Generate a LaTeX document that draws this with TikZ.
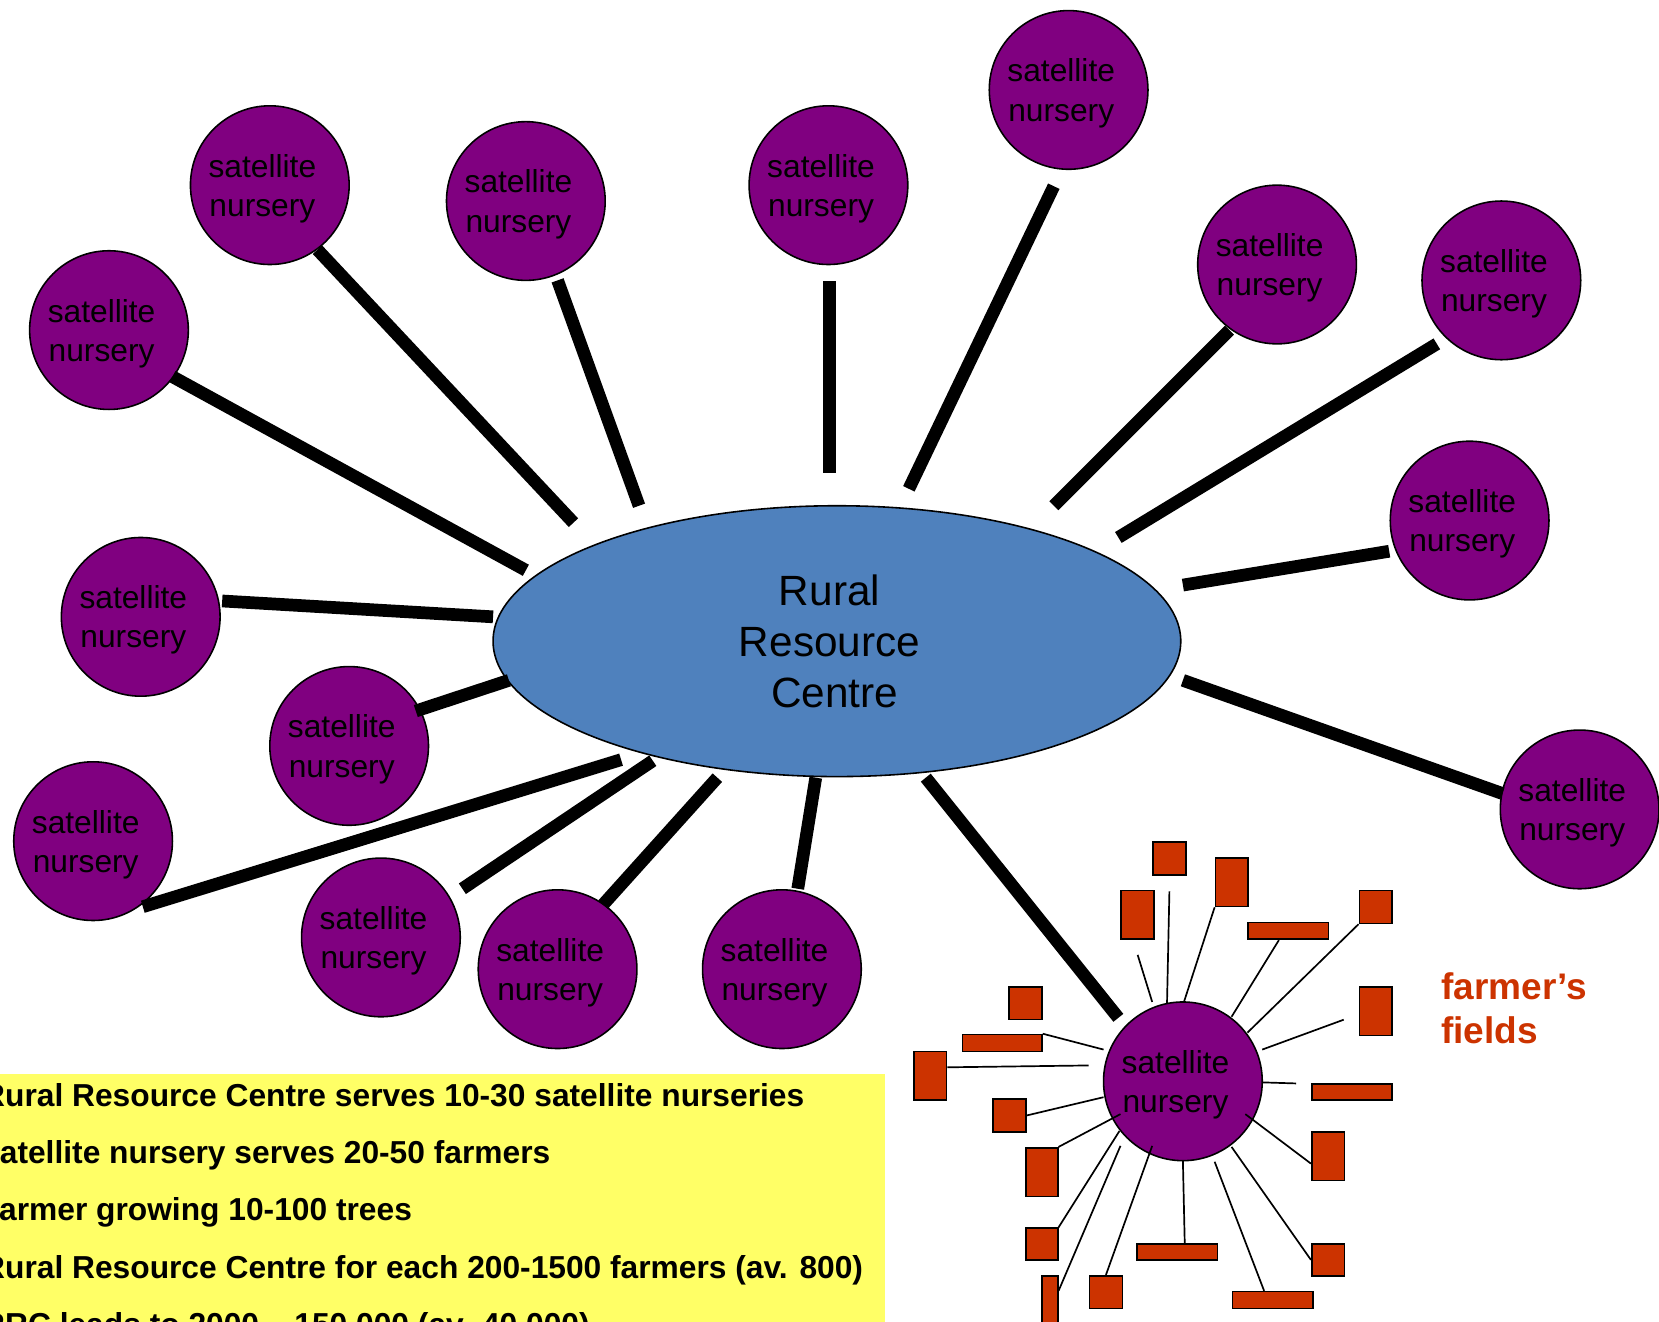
\documentclass[tikz,border=0pt]{standalone}
\usepackage{fontspec}
\setmainfont{Liberation Sans}
\usetikzlibrary{calc,shapes.geometric}
\definecolor{nurse}{RGB}{128,0,128}
\definecolor{rrcblue}{RGB}{79,129,189}
\definecolor{fieldred}{RGB}{204,51,0}
\definecolor{boxyellow}{RGB}{255,255,102}
\newcommand{\satnur}{\hspace*{-14pt}\rule{0pt}{28pt}satellite\\\hspace*{-14pt}nursery}
\begin{document}
\begin{tikzpicture}[x=1pt,y=-1pt,
  nursery/.style={circle,draw=black,line width=1.5pt,fill=nurse,minimum size=150pt,inner sep=0pt,align=center,font=\fontsize{30}{37}\selectfont},
  spoke/.style={line width=12pt,black},
  field/.style={draw=black,line width=1.5pt,fill=fieldred,inner sep=0pt,anchor=north west},
  farmline/.style={line width=1.6pt,black},
  info/.style={anchor=base west,inner sep=0pt,font=\fontsize{30}{36}\selectfont\bfseries}]
\useasboundingbox (0,0) rectangle (1568,1249);
\clip (0,0) rectangle (1568,1249);

% yellow information box
\fill[boxyellow] (-10,1015) rectangle (836,1260);
\node[info] (t1) at (-17,1046) {Rural Resource Centre serves 10-30 satellite nurseries};
\node[info] (t2) at (-17,1100) {satellite nursery serves 20-50 farmers};
\node[info] (t3) at (-11,1154) {farmer growing 10-100 trees};
\node[info] (t4) at (-17,1208) {Rural Resource Centre for each 200-1500 farmers (av. 800)};
\node[info] (t5) at (-17,1262) {RRC leads to 2000 – 150 000 (av. 40 000)};

% Rural Resource Centre
\node[ellipse,draw=black,line width=1.5pt,fill=rrcblue,minimum width=650pt,minimum height=256pt,inner sep=0pt,align=center,font=\fontsize{40}{48}\selectfont] (rrc) at (791,606) {\hspace*{-14pt}Rural\\\hspace*{-14pt}Resource\\\hspace*{-4pt}Centre};

% satellite nurseries
\node[nursery] (n1) at (1010,85) {\satnur};
\node[nursery] (n2) at (783,175) {\satnur};
\node[nursery] (n3) at (497,190) {\satnur};
\node[nursery] (n4) at (255,175) {\satnur};
\node[nursery] (n5) at (103,312) {\satnur};
\node[nursery] (n6) at (1207,250) {\satnur};
\node[nursery] (n7) at (1419,265) {\satnur};
\node[nursery] (n8) at (1389,492) {\satnur};
\node[nursery] (n9) at (133,583) {\satnur};
\node[nursery] (n10) at (330,705) {\satnur};
\node[nursery] (n11) at (88,795) {\satnur};
\node[nursery] (n12) at (360,886) {\satnur};
\node[nursery] (n13) at (527,916) {\satnur};
\node[nursery] (n14) at (739,916) {\satnur};
\node[nursery] (n15) at (1493,765) {\satnur};
\node[nursery] (f) at (1118,1022) {\satnur};

% spokes
\draw[spoke] ($(n1)+(-14,91)$) -- ($(rrc)+(68,-144)$);
\draw[spoke] ($(n2)+(1,91)$) -- ($(rrc)+(-7,-159)$);
\draw[spoke] ($(n3)+(30,75)$) -- ($(rrc)+(-187,-128)$);
\draw[spoke] ($(n4)+(45,61)$) -- ($(rrc)+(-249,-112)$);
\draw[spoke] ($(n5)+(60,44)$) -- ($(rrc)+(-294,-67)$);
\draw[spoke] ($(n6)+(-45,62)$) -- ($(rrc)+(205,-128)$);
\draw[spoke] ($(n7)+(-61,60)$) -- ($(rrc)+(266,-98)$);
\draw[spoke] ($(n8)+(-76,29)$) -- ($(rrc)+(327,-53)$);
\draw[spoke] ($(n9)+(77,-15)$) -- ($(rrc)+(-325,-23)$);
\draw[spoke] ($(n10)+(63,-33)$) -- ($(rrc)+(-310,37)$);
\draw[spoke] ($(n11)+(47,62)$) -- ($(rrc)+(-204,112)$);
\draw[spoke] ($(n12)+(77,-46)$) -- ($(rrc)+(-174,113)$);
\draw[spoke] ($(n13)+(43,-61)$) -- ($(rrc)+(-113,129)$);
\draw[spoke] ($(n14)+(15,-76)$) -- ($(rrc)+(-20,129)$);
\draw[spoke] ($(n15)+(-73,-15)$) -- ($(rrc)+(327,37)$);
\draw[spoke] ($(f)+(-61,-60)$) -- ($(rrc)+(84,129)$);

% farmer's fields
\node[field,minimum width=31pt,minimum height=31pt] (A) at (1089,795) {};
\node[field,minimum width=31pt,minimum height=46pt] (B) at (1148,810) {};
\node[field,minimum width=31pt,minimum height=46pt] (C) at (1059,841) {};
\node[field,minimum width=76pt,minimum height=16pt] (D) at (1179,871) {};
\node[field,minimum width=31pt,minimum height=31pt] (E) at (1284,841) {};
\node[field,minimum width=31pt,minimum height=46pt] (F) at (1284,932) {};
\node[field,minimum width=31pt,minimum height=31pt] (G) at (953,932) {};
\node[field,minimum width=75pt,minimum height=16pt] (H) at (909,977) {};
\node[field,minimum width=31pt,minimum height=46pt] (I) at (863,993) {};
\node[field,minimum width=76pt,minimum height=15pt] (J) at (1239,1024) {};
\node[field,minimum width=31pt,minimum height=31pt] (K) at (938,1038) {};
\node[field,minimum width=30pt,minimum height=46pt] (L) at (969,1084) {};
\node[field,minimum width=31pt,minimum height=46pt] (M) at (1239,1069) {};
\node[field,minimum width=30pt,minimum height=30pt] (N) at (969,1160) {};
\node[field,minimum width=76pt,minimum height=15pt] (O) at (1074,1175) {};
\node[field,minimum width=31pt,minimum height=30pt] (P) at (1239,1175) {};
\node[field,minimum width=15pt,minimum height=60pt] (Q) at (984,1205) {};
\node[field,minimum width=31pt,minimum height=31pt] (R) at (1029,1205) {};
\node[field,minimum width=76pt,minimum height=16pt] (S) at (1164,1220) {};

\draw[farmline] ($(A.south)+(0,15)$) -- ($(f)+(-15,-74)$);
\draw[farmline] ($(C.south)+(0,14)$) -- ($(f)+(-29,-75)$);
\draw[farmline] (B.south west) -- ($(f)+(1,-75)$);
\draw[farmline] ($(D.south)+(-9,0)$) -- ($(f)+(46,-61)$);
\draw[farmline] (E.south west) -- ($(f)+(61,-46)$);
\draw[farmline] ($(F.west)+(-14,8)$) -- ($(f)+(75,-30)$);
\draw[farmline] (H.north east) -- ($(f)+(-75,-30)$);
\draw[farmline] ($(I.east)+(0,-8)$) -- ($(f)+(-89,-15)$);
\draw[farmline] ($(f)+(75,1)$) -- ($(J.north west)+(-14,0)$);
\draw[farmline] (K.east) -- ($(f)+(-75,15)$);
\draw[farmline] (L.north east) -- ($(f)+(-59,31)$);
\draw[farmline] ($(f)+(59,31)$) -- ($(M.west)+(0,7)$);
\draw[farmline] (N.north east) -- ($(f)+(-60,47)$);
\draw[farmline] ($(Q.north east)+(0,15)$) -- ($(f)+(-59,61)$);
\draw[farmline] (R.north) -- ($(f)+(-29,61)$);
\draw[farmline] ($(f)+(0,75)$) -- ($(O.north)+(7,0)$);
\draw[farmline] ($(f)+(30,76)$) -- ($(S.north)+(-8,0)$);
\draw[farmline] ($(f)+(46,62)$) -- (P.west);

\node[anchor=west,inner sep=0pt,align=left,text=fieldred,font=\fontsize{35}{42}\selectfont\bfseries] (ff) at (1362,953) {farmer’s\\fields};
\end{tikzpicture}
\end{document}
